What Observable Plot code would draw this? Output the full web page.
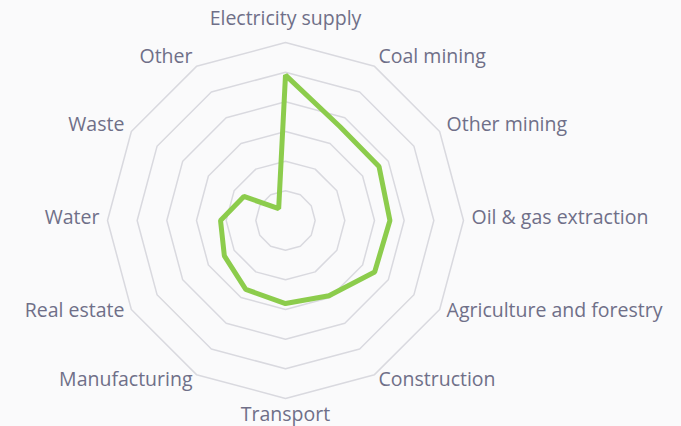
<!DOCTYPE html>
<html><head><meta charset="utf-8">
<script src="https://cdn.jsdelivr.net/npm/d3@7"></script>
<script src="https://cdn.jsdelivr.net/npm/@observablehq/plot@0.6"></script>
<style>
html,body{margin:0;padding:0;background:#fafafb;}
#chart svg{display:block;}
</style></head><body><div id="chart"></div>
<script>
const categories = ["Electricity supply","Coal mining","Other mining","Oil & gas extraction","Agriculture and forestry","Construction","Transport","Manufacturing","Real estate","Water","Waste","Other"];
const values = [49.0, 36.6, 36.4, 35.2, 34.7, 29.3, 28.0, 26.8, 23.8, 21.9, 16.2, 4.6];
const ringLevels = [10, 20, 30, 40, 50, 60];
const maxValue = 60;

const n = categories.length;
const ang = i => 2 * Math.PI * i / n;
const px = (i, r) => r * Math.sin(ang(i));
const py = (i, r) => r * Math.cos(ang(i));
const round3 = v => Math.round(v * 1000) / 1000;

const rings = ringLevels.flatMap(level => categories.map((c, i) => ({level, i})));
const series = categories.map((c, i) => ({c, i, v: values[i]}));
const labelR = maxValue + 2.7;
const labels = categories.map((c, i) => ({c, i, s: round3(Math.sin(ang(i))), co: round3(Math.cos(ang(i)))}));

const textColor = "#6f6f88";
const fs = 19.5;
const lx = d => px(d.i, labelR), ly = d => py(d.i, labelR);

const chart = Plot.plot({
  width: 681, height: 426,
  marginLeft: 107, marginRight: 218, marginTop: 42, marginBottom: 28,
  x: {domain: [-maxValue, maxValue], axis: null},
  y: {domain: [-maxValue, maxValue], axis: null},
  style: {background: "transparent", fontFamily: "'Open Sans', sans-serif", overflow: "visible"},
  marks: [
    Plot.line(rings, {x: d => px(d.i, d.level), y: d => py(d.i, d.level), z: "level", curve: "linear-closed", stroke: "#d9d9df", strokeWidth: 1.5}),
    Plot.line(series, {x: d => px(d.i, d.v), y: d => py(d.i, d.v), curve: "linear-closed", stroke: "#8ccc4c", strokeWidth: 5, strokeLinejoin: "miter"}),
    Plot.text(labels.filter(d => d.co === 1), {x: lx, y: ly, text: "c", textAnchor: "middle", lineAnchor: "middle", dy: -16, fill: textColor, fontSize: fs}),
    Plot.text(labels.filter(d => d.co === -1), {x: lx, y: ly, text: "c", textAnchor: "middle", lineAnchor: "middle", dy: 8.5, fill: textColor, fontSize: fs}),
    Plot.text(labels.filter(d => d.s > 0), {x: lx, y: ly, text: "c", textAnchor: "start", lineAnchor: "middle", dy: -2.3, fill: textColor, fontSize: fs}),
    Plot.text(labels.filter(d => d.s < 0), {x: lx, y: ly, text: "c", textAnchor: "end", lineAnchor: "middle", dy: -2.3, fill: textColor, fontSize: fs})
  ]
});
document.getElementById("chart").appendChild(chart);
</script></body></html>
